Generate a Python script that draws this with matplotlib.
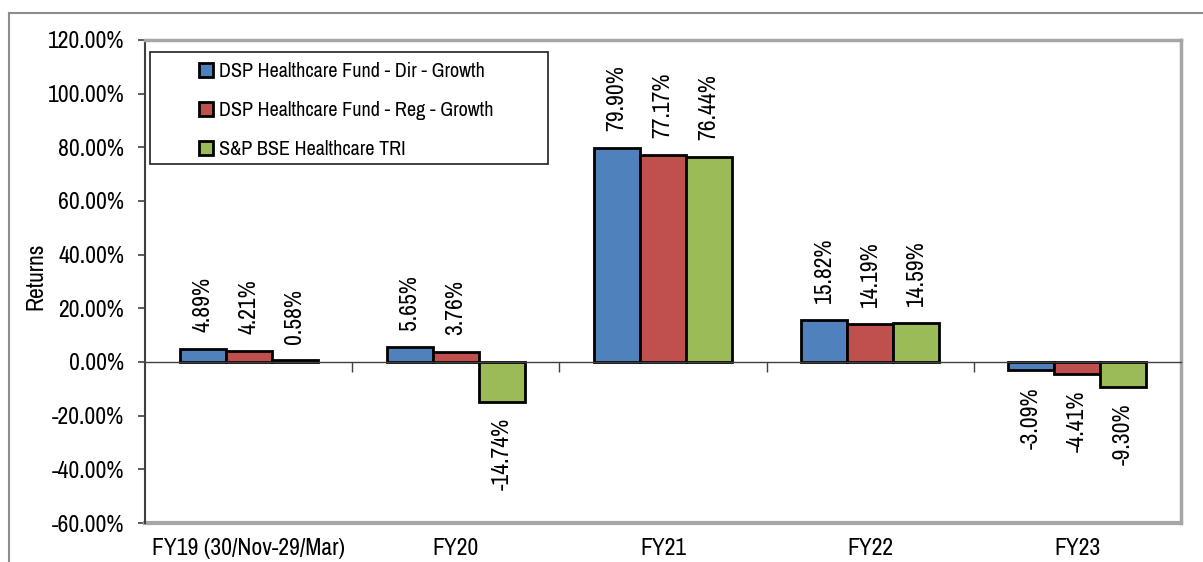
import matplotlib
matplotlib.use('Agg')
import matplotlib.pyplot as plt
import numpy as np
from matplotlib.lines import Line2D
from matplotlib.patches import Rectangle
from matplotlib.ticker import FuncFormatter

plt.rcParams['font.family'] = ['Archivo Narrow', 'Liberation Sans', 'DejaVu Sans']

categories = ['FY19 (30/Nov-29/Mar)', 'FY20', 'FY21', 'FY22', 'FY23']
series_names = ['DSP Healthcare Fund - Dir - Growth',
                'DSP Healthcare Fund - Reg - Growth',
                'S&P BSE Healthcare TRI']
dir_growth = [4.89, 5.65, 79.90, 15.82, -3.09]
reg_growth = [4.21, 3.76, 77.17, 14.19, -4.41]
bse_tri = [0.58, -14.74, 76.44, 14.59, -9.30]
colors = ['#4F81BD', '#C0504D', '#9BBB59']

fig = plt.figure(figsize=(12.03, 5.62), dpi=100)
ax = fig.add_axes([145/1203, 1-523/562, (1181-145)/1203, (523-40)/562])

x = np.arange(len(categories))
w = 0.222
handles = []
for i, (vals, name, c) in enumerate(zip([dir_growth, reg_growth, bse_tri], series_names, colors)):
    pos = x + (i - 1) * w
    b = ax.bar(pos, vals, w, color=c, edgecolor='black', linewidth=2, label=name, zorder=3)
    handles.append(b)
    for p, v in zip(pos, vals):
        ax.annotate(f'{v:.2f}%', (p, v), xytext=(0, 12 if v >= 0 else -12),
                    textcoords='offset points', rotation=90, ha='center',
                    va='bottom' if v >= 0 else 'top', fontsize=17)

ax.set_xlim(-0.5, len(categories) - 0.5)
ax.set_ylim(-60, 120)
ax.set_yticks(np.arange(-60, 121, 20))
ax.yaxis.set_major_formatter(FuncFormatter(lambda v, p: f'{v:.2f}%'))
ax.tick_params(axis='y', labelsize=17, direction='out', length=5, width=1.2, color='#404040', pad=10)
ax.set_ylabel('Returns', fontsize=17)
ax.yaxis.set_label_coords(-0.095, 0.51)

# zero line as category axis
ax.spines['bottom'].set_position(('data', 0))
ax.spines['bottom'].set_color('#404040')
ax.spines['bottom'].set_linewidth(1)
ax.spines['bottom'].set_zorder(4)
ax.set_xticks(x[:-1] + 0.5)
ax.tick_params(axis='x', direction='out', length=7, width=1, color='#404040', labelbottom=False)
ax.spines['left'].set_color('#404040')
ax.spines['left'].set_linewidth(1.5)
for s in ['top', 'right']:
    ax.spines[s].set_color('#a6a6a6')
    ax.spines[s].set_linewidth(2.5)
ax.add_line(Line2D([0, 1], [0, 0], transform=ax.transAxes, color='#a6a6a6', lw=3, clip_on=False))

sec = ax.secondary_xaxis('bottom')
sec.set_xticks(x)
sec.set_xticklabels(categories, fontsize=17)
sec.tick_params(length=0, pad=11)
sec.spines['bottom'].set_visible(False)

# legend box
ax.add_patch(Rectangle((5/1036, (523-164)/483), (548-150)/1036, (164-52)/483,
                       transform=ax.transAxes, fill=False, ec='#202020', lw=1.2, zorder=5))
leg = ax.legend(handles=handles, loc='upper left',
                bbox_to_anchor=((205-145)/1036 - 0.012, (523-56)/483),
                frameon=False, fontsize=14.5, handlelength=0.7, handleheight=0.7,
                handletextpad=0.3, labelspacing=1.0, borderaxespad=0, borderpad=0.3)

# outer chart frame
fig.add_artist(Line2D([9/1203, 1], [1-13/562, 1-13/562], transform=fig.transFigure, color='#8c8c8c', lw=1.5))
fig.add_artist(Line2D([9/1203, 9/1203], [0, 1-13/562], transform=fig.transFigure, color='#8c8c8c', lw=1.5))

fig.savefig('out.png', dpi=100)
